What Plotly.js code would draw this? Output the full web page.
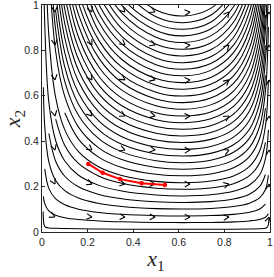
<!DOCTYPE html>
<html><head><meta charset="utf-8">
<script src="https://cdn.plot.ly/plotly-3.0.1.min.js"></script>
<style>html,body{margin:0;padding:0;background:#fff}#c{width:274px;height:277px}</style>
</head><body><div id="c"></div>
<script>
// ---- data ----
// common x1 stations at which each streamline's x2 was read
var stationX1 = [0.006, 0.012, 0.03, 0.06, 0.1, 0.16, 0.25, 0.35, 0.5, 0.62, 0.74, 0.84, 0.91, 0.955, 0.98, 0.993];
// lowest streamline (own stations, hugs the axes)
var bottomLineX1 = [0.005, 0.006, 0.009, 0.016, 0.03, 0.06, 0.1, 0.16, 0.25, 0.35, 0.5, 0.62, 0.74, 0.84, 0.91, 0.955, 0.98, 0.988, 0.993, 0.995];
var bottomLineX2 = [0.09, 0.06, 0.032, 0.021, 0.018, 0.0165, 0.0155, 0.0143, 0.0132, 0.0125, 0.012, 0.0119, 0.012, 0.0125, 0.0132, 0.0143, 0.0165, 0.021, 0.032, 0.06];
// first station index of each streamline below
var lineStart = [0,1,0,2,0,3,1,4,2,2,3,2,3,3,3,3,4,4,4,4,4,5,5,5,5,6,6,6,6,6,7,7];
var line01 = [0.157, 0.125, 0.093, 0.074, 0.063, 0.055, 0.0486, 0.0448, 0.042, 0.0414, 0.0422, 0.0446, 0.0489, 0.0554, 0.0648, 0.0798];
var line02 = [0.278, 0.192, 0.146, 0.120, 0.1006, 0.0863, 0.078, 0.072, 0.0707, 0.0724, 0.0776, 0.0868, 0.1014, 0.1229];
var line03 = [0.638, 0.466, 0.309, 0.227, 0.182, 0.150, 0.126, 0.1126, 0.103, 0.101, 0.1035, 0.112, 0.127, 0.151, 0.187, 0.250];
var line04 = [0.434, 0.312, 0.2455, 0.199, 0.1655, 0.1464, 0.133, 0.130, 0.1338, 0.1455, 0.1667, 0.2008, 0.2535];
var line05 = [1.315, 0.918, 0.572, 0.402, 0.3125, 0.250, 0.2054, 0.1804, 0.163, 0.159, 0.164, 0.1793, 0.207, 0.2525, 0.3234, 0.450];
var line06 = [0.497, 0.381, 0.302, 0.246, 0.2146, 0.193, 0.188, 0.194, 0.213, 0.248, 0.305, 0.395];
var line07 = [1.443, 0.865, 0.592, 0.450, 0.354, 0.286, 0.249, 0.223, 0.2174, 0.2244, 0.247, 0.289, 0.358, 0.467, 0.669];
var line08 = [0.525, 0.409, 0.329, 0.2845, 0.254, 0.2474, 0.2558, 0.2827, 0.332, 0.414, 0.545];
var line09 = [1.185, 0.794, 0.596, 0.462, 0.3695, 0.319, 0.284, 0.2765, 0.286, 0.3167, 0.373, 0.467, 0.619, 0.903];
var line10 = [1.328, 0.889, 0.6625, 0.514, 0.410, 0.353, 0.314, 0.3055, 0.316, 0.351, 0.4135, 0.519, 0.690];
var line11 = [0.9735, 0.726, 0.563, 0.449, 0.3867, 0.344, 0.3347, 0.3464, 0.3842, 0.453, 0.569, 0.756, 1.106];
var line12 = [1.58, 1.058, 0.789, 0.612, 0.488, 0.420, 0.374, 0.364, 0.3766, 0.4178, 0.4926, 0.6186, 0.8217];
var line13 = [1.146, 0.8546, 0.6626, 0.5285, 0.455, 0.405, 0.394, 0.408, 0.4524, 0.5334, 0.670, 0.890, 1.302];
var line14 = [1.231, 0.918, 0.7117, 0.5677, 0.489, 0.435, 0.4233, 0.438, 0.486, 0.573, 0.7195, 0.9557];
var line15 = [1.316, 0.981, 0.761, 0.607, 0.5227, 0.465, 0.4524, 0.4683, 0.519, 0.612, 0.769, 1.0216];
var line16 = [1.40, 1.0445, 0.810, 0.646, 0.556, 0.495, 0.4816, 0.4985, 0.553, 0.652, 0.819, 1.0875];
var line17 = [1.108, 0.859, 0.685, 0.590, 0.525, 0.511, 0.5287, 0.5864, 0.691, 0.868, 1.153];
var line18 = [1.173, 0.9096, 0.7256, 0.625, 0.556, 0.541, 0.560, 0.621, 0.732, 0.9196, 1.2215];
var line19 = [1.236, 0.9587, 0.7647, 0.6587, 0.586, 0.570, 0.590, 0.6546, 0.7718, 0.969, 1.287];
var line20 = [1.30, 1.008, 0.804, 0.6924, 0.616, 0.599, 0.620, 0.688, 0.811, 1.019];
var line21 = [1.363, 1.057, 0.843, 0.726, 0.646, 0.6286, 0.6505, 0.7216, 0.851, 1.0685];
var line22 = [1.106, 0.882, 0.760, 0.676, 0.658, 0.681, 0.755, 0.890, 1.118];
var line23 = [1.157, 0.9226, 0.7947, 0.707, 0.688, 0.712, 0.790, 0.931, 1.169];
var line24 = [1.206, 0.9618, 0.8284, 0.737, 0.717, 0.742, 0.823, 0.9706, 1.219];
var line25 = [1.255, 1.001, 0.862, 0.767, 0.746, 0.772, 0.857, 1.010];
var line26 = [1.040, 0.896, 0.797, 0.7755, 0.8026, 0.890, 1.0496];
var line27 = [1.079, 0.9295, 0.827, 0.8047, 0.8328, 0.9238, 1.089];
var line28 = [1.120, 0.964, 0.858, 0.835, 0.864, 0.958, 1.13];
var line29 = [1.159, 0.998, 0.888, 0.864, 0.894, 0.992, 1.1695];
var line30 = [1.198, 1.032, 0.918, 0.893, 0.924, 1.025];
var line31 = [1.0656, 0.948, 0.922, 0.9546, 1.059];
var line32 = [1.099, 0.978, 0.9516, 0.985, 1.092];
// arrow grid (positions) and flow direction in screen degrees (0 = right, 90 = down)
var arrowX1 = [0.057, 0.219, 0.364, 0.496, 0.649, 0.820, 0.996];
var arrowX2 = [0.969, 0.824, 0.670, 0.511, 0.361, 0.211, 0.066];
var arrowAngleRows = [
  [84, 65, 45, 24, -7, -51, -89],
  [83, 61, 40, 21, -6, -46, -89],
  [81, 55, 34, 17, -5, -40, -89],
  [78, 47, 27, 13, -4, -33, -89],
  [73, 37, 20, 9, -2, -24, -88],
  [62, 23, 11, 5, -1, -14, -86],
  [25, 6, 3, 1, 0, -3, -75]];
// red trajectory
var redX1 = [0.203, 0.266, 0.342, 0.437, 0.539];
var redX2 = [0.300, 0.261, 0.233, 0.215, 0.207];
var tickVals = [0, 0.2, 0.4, 0.6, 0.8, 1];
var tickText = ['0', '0.2', '0.4', '0.6', '0.8', '1'];

// ---- drawing ----
var W = 274, H = 277, M = {l: 42, r: 4, t: 5, b: 45};
var pw = W - M.l - M.r, ph = H - M.t - M.b;
var lines = [line01,line02,line03,line04,line05,line06,line07,line08,line09,line10,line11,line12,line13,line14,line15,line16,
             line17,line18,line19,line20,line21,line22,line23,line24,line25,line26,line27,line28,line29,line30,line31,line32];
var traces = [];
var lineStyle = {color: '#000', width: 1.05, shape: 'spline', smoothing: 1};
traces.push({x: bottomLineX1, y: bottomLineX2, mode: 'lines', line: lineStyle, hoverinfo: 'skip'});
lines.forEach(function(vals, i){
  var xs = stationX1.slice(lineStart[i], lineStart[i] + vals.length);
  traces.push({x: xs, y: vals, mode: 'lines', line: lineStyle, hoverinfo: 'skip'});
});
// chevron arrowheads
var ax = [], ay = [];
arrowAngleRows.forEach(function(row, r){
  row.forEach(function(deg, c){
    var x = arrowX1[c], y = arrowX2[r];
    var a = deg * Math.PI / 180, dx = Math.cos(a), dy = Math.sin(a);
    [0.5, -0.5].forEach(function(s){
      var cs = Math.cos(s), sn = Math.sin(s);
      var bx = -(dx * cs - dy * sn) * 6, by = -(dx * sn + dy * cs) * 6;
      ax.push(x + bx / pw, x, null); ay.push(y - by / ph, y, null);
    });
  });
});
traces.push({x: ax, y: ay, mode: 'lines', line: {color: '#000', width: 1.1}, hoverinfo: 'skip'});
traces.push({x: redX1, y: redX2, mode: 'lines+markers', line: {color: '#ff0000', width: 2}, marker: {color: '#ff0000', size: 4.5}, hoverinfo: 'skip'});

function axis(title){
  return {range: [0, 1], tickvals: tickVals, ticktext: tickText, ticks: 'inside', ticklen: 3, tickcolor: '#262626', tickwidth: 1,
    showline: true, mirror: 'ticks', linecolor: '#262626', linewidth: 1, showgrid: false, zeroline: false,
    ticklabeloverflow: 'allow',
    tickfont: {family: 'Liberation Sans, Arial, sans-serif', size: 10.5, color: '#262626'},
    title: {text: title, font: {family: 'Liberation Serif, serif', size: 22, color: '#262626'}, standoff: 4}};
}
var layout = {width: W, height: H, margin: M, showlegend: false, paper_bgcolor: '#fff', plot_bgcolor: '#fff',
  xaxis: axis('<i>x</i><sub>1</sub>'), yaxis: axis('<i>x</i><sub>2</sub>')};
Plotly.newPlot('c', traces, layout, {staticPlot: true, displayModeBar: false});
</script></body></html>
